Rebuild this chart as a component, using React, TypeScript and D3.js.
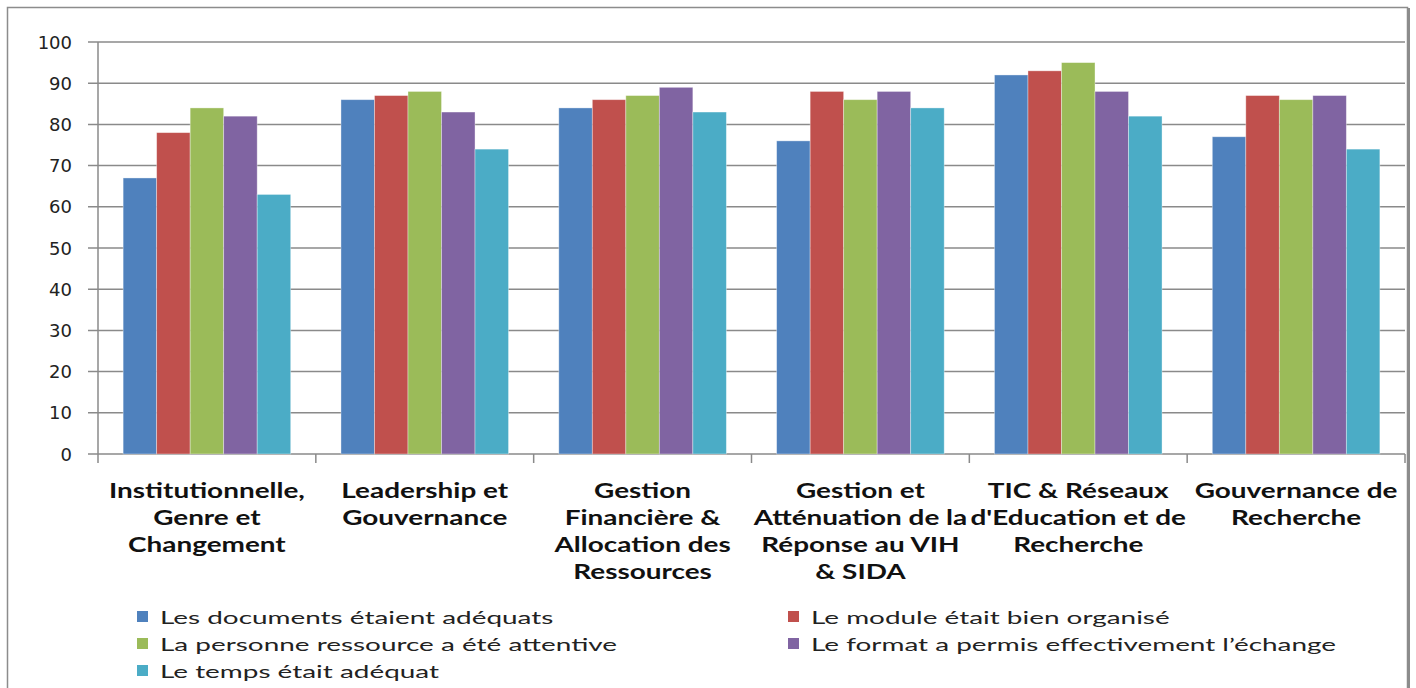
import React from "react";
import * as d3 from "d3";

const categories: string[][] = [
  ["Institutionnelle,", "Genre et", "Changement"],
  ["Leadership et", "Gouvernance"],
  ["Gestion", "Financière &", "Allocation des", "Ressources"],
  ["Gestion et", "Atténuation de la", "Réponse au VIH", "& SIDA"],
  ["TIC & Réseaux", "d'Education et de", "Recherche"],
  ["Gouvernance de", "Recherche"],
];

const seriesNames = [
  "Les documents étaient  adéquats",
  "Le module était bien organisé",
  "La personne ressource a été attentive",
  "Le format a permis effectivement l’échange",
  "Le temps était adéquat",
];

const documents = [67, 86, 84, 76, 92, 77];
const module_ = [78, 87, 86, 88, 93, 87];
const personne = [84, 88, 87, 86, 95, 86];
const format_ = [82, 83, 89, 88, 88, 87];
const temps = [63, 74, 83, 84, 82, 74];

const seriesValues = [documents, module_, personne, format_, temps];
const colors = ["#4F81BD", "#C0504D", "#9BBB59", "#8064A2", "#4BACC6"];
const yTicks = [0, 10, 20, 30, 40, 50, 60, 70, 80, 90, 100];

export default function App() {
  const W = 1416, H = 688;
  const left = 98, right = 1405, top = 42, bottom = 454;
  const x0 = d3.scaleBand<number>().domain(d3.range(categories.length)).range([left, right]).paddingInner(0).paddingOuter(0);
  const catW = x0.bandwidth();
  const barW = catW / 6.5;
  const y = d3.scaleLinear().domain([0, 100]).range([bottom, top]);
  const catFont = "Lato, 'Open Sans', sans-serif";
  return (
    <svg width={W} height={H} style={{ position: "absolute", left: 0, top: 0, background: "#fff" }}>
      <rect x={7.5} y={7.5} width={1400} height={700} fill="#fff" stroke="#8c8c8c" strokeWidth={1.5} />
      <line x1={1408.5} y1={8} x2={1408.5} y2={688} stroke="#8c8c8c" strokeWidth={3} />
      {yTicks.map((t) => (
        <g key={t}>
          <line x1={left - 10} x2={right} y1={y(t)} y2={y(t)} stroke="#8a8a8a" strokeWidth={1.5} />
          <text x={72} y={y(t) + 6.5} textAnchor="end" fontFamily="'DejaVu Sans', sans-serif" fontSize={18} fill="#222">{t}</text>
        </g>
      ))}
      <line x1={left} x2={left} y1={top} y2={bottom} stroke="#8a8a8a" strokeWidth={1.5} />
      {d3.range(categories.length + 1).map((i) => (
        <line key={i} x1={left + i * catW} x2={left + i * catW} y1={bottom} y2={bottom + 9} stroke="#8a8a8a" strokeWidth={1.5} />
      ))}
      {seriesValues.map((vals, s) =>
        vals.map((v, c) => (
          <rect key={`${s}-${c}`} x={(x0(c) as number) + barW * 0.75 + s * barW} y={y(v)} width={barW} height={bottom - y(v)}
            fill={colors[s]} stroke="rgba(255,255,255,0.45)" strokeWidth={0.8} />
        ))
      )}
      {categories.map((lines, c) => (
        <g key={c} transform={`translate(${(x0(c) as number) + catW / 2},0) scale(1.33,1)`}>
          <text textAnchor="middle" fontFamily={catFont} fontWeight="bold" fontSize={21} fill="#111">
            {lines.map((l, i) => (
              <tspan key={i} x={0} y={498 + i * 27}>{l}</tspan>
            ))}
          </text>
        </g>
      ))}
      {seriesNames.map((n, i) => {
        const col = i % 2, row = Math.floor(i / 2);
        const lx = col === 0 ? 137 : 788;
        const ly = 617 + row * 27;
        return (
          <g key={i}>
            <rect x={lx} y={ly - 6} width={11} height={11} fill={colors[i]} />
            <g transform={`translate(${lx + 23},${ly + 7}) scale(1.55,1)`}>
              <text x={0} y={0} fontFamily={catFont} fontSize={18} fill="#222">{n}</text>
            </g>
          </g>
        );
      })}
    </svg>
  );
}
